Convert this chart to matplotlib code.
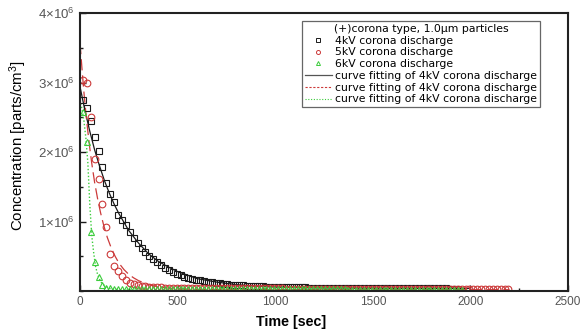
import matplotlib.pyplot as plt
import numpy as np
from matplotlib.lines import Line2D
from matplotlib.ticker import MultipleLocator

# measured concentration, units of 1e6 parts/cm3, sampled every 20 s from t=15 s
conc_4kv = [2.75, 2.63, 2.45, 2.22, 2.02, 1.78, 1.55, 1.40, 1.28, 1.10,
            1.02, 0.95, 0.85, 0.77, 0.69, 0.62, 0.56, 0.50, 0.46, 0.42,
            0.37, 0.33, 0.30, 0.27, 0.25, 0.23, 0.21, 0.19, 0.18, 0.165,
            0.155, 0.145, 0.135, 0.125, 0.118, 0.11, 0.104, 0.098, 0.093, 0.089,
            0.085, 0.081, 0.078, 0.075, 0.072, 0.070, 0.067, 0.065, 0.063, 0.061,
            0.059, 0.058, 0.057, 0.056, 0.055, 0.054, 0.053, 0.053, 0.052, 0.051,
            0.050, 0.050, 0.049, 0.048, 0.048, 0.047, 0.047, 0.046, 0.046, 0.045,
            0.045, 0.044, 0.044, 0.044, 0.043, 0.043, 0.042, 0.042, 0.042, 0.041,
            0.041, 0.041, 0.040, 0.040, 0.040, 0.040, 0.039, 0.039, 0.039, 0.039,
            0.038, 0.038, 0.038, 0.038, 0.037, 0.037, 0.037]
conc_5kv = [3.04, 2.99, 2.50, 1.90, 1.62, 1.26, 0.92, 0.53, 0.36, 0.29,
            0.22, 0.16, 0.12, 0.10, 0.085, 0.075, 0.068, 0.062, 0.058, 0.055,
            0.053, 0.052, 0.051, 0.050, 0.049, 0.048, 0.048, 0.047, 0.046, 0.046,
            0.045, 0.045, 0.044, 0.044, 0.043, 0.043, 0.042, 0.042, 0.042, 0.041,
            0.041, 0.041, 0.040, 0.040, 0.040, 0.039, 0.039, 0.039, 0.038, 0.038,
            0.038, 0.038, 0.037, 0.037, 0.037, 0.037, 0.036, 0.036, 0.036, 0.036,
            0.035, 0.035, 0.035, 0.035, 0.034, 0.034, 0.034, 0.034, 0.034, 0.033,
            0.033, 0.033, 0.033, 0.033, 0.032, 0.032, 0.032, 0.032, 0.032, 0.032,
            0.031, 0.031, 0.031, 0.031, 0.031, 0.031, 0.030, 0.030, 0.030, 0.030,
            0.030, 0.030, 0.030, 0.029, 0.029, 0.029, 0.029, 0.029, 0.029, 0.029,
            0.028, 0.028, 0.028, 0.028, 0.028, 0.028, 0.028, 0.028, 0.027, 0.027]
conc_6kv = [2.58, 2.14, 0.85, 0.42, 0.20, 0.09, 0.05, 0.038, 0.033, 0.031,
            0.030, 0.030, 0.030, 0.030, 0.029, 0.029, 0.029, 0.029, 0.029, 0.029,
            0.028, 0.028, 0.028, 0.028, 0.028, 0.028, 0.028, 0.028, 0.027, 0.027,
            0.027, 0.027, 0.027, 0.027, 0.027, 0.027, 0.026, 0.026, 0.026, 0.026,
            0.026, 0.026, 0.026, 0.026, 0.026, 0.025, 0.025, 0.025, 0.025, 0.025,
            0.025, 0.025, 0.025, 0.025, 0.025, 0.025, 0.024, 0.024, 0.024, 0.024,
            0.024, 0.024, 0.024, 0.024, 0.024, 0.024, 0.024, 0.024, 0.023, 0.023,
            0.023, 0.023, 0.023, 0.023, 0.023, 0.023, 0.023, 0.023, 0.023, 0.023,
            0.022, 0.022, 0.022, 0.022, 0.022, 0.022, 0.022, 0.022, 0.022, 0.022,
            0.022, 0.022, 0.022, 0.021, 0.021, 0.021, 0.021, 0.021]
t_start, t_step = 15, 20

# fitted curves
fit_t4 = [0, 25, 50, 75, 100, 125, 150, 175, 200, 250, 300, 350, 400, 450, 500,
          600, 700, 800, 900, 1000, 1200, 1400, 1600, 1800, 2000]
fit_c4 = [2.94, 2.60, 2.30, 2.03, 1.80, 1.59, 1.41, 1.25, 1.11, 0.87, 0.69, 0.54,
          0.43, 0.35, 0.28, 0.18, 0.13, 0.093, 0.072, 0.059, 0.047, 0.043, 0.041,
          0.040, 0.040]
fit_t5 = [0, 10, 20, 30, 40, 50, 60, 75, 90, 105, 120, 140, 160, 180, 200, 225,
          250, 275, 300, 350, 400, 450, 500, 600, 800, 1000, 1500, 2000, 2200]
fit_c5 = [3.57, 3.20, 2.86, 2.56, 2.30, 2.06, 1.84, 1.56, 1.33, 1.13, 0.96, 0.77,
          0.62, 0.50, 0.40, 0.31, 0.24, 0.19, 0.15, 0.093, 0.062, 0.044, 0.034,
          0.025, 0.021, 0.020, 0.020, 0.020, 0.020]
fit_t6 = [0, 10, 20, 30, 40, 50, 60, 70, 80, 90, 100, 110, 125, 150, 200, 300, 2000]
fit_c6 = [2.75, 2.62, 2.45, 2.20, 1.85, 1.25, 0.80, 0.55, 0.35, 0.24, 0.17, 0.12,
          0.08, 0.04, 0.02, 0.01, 0.01]

legend_title = '(+)corona type, 1.0μm particles'
labels = ['4kV corona discharge', '5kV corona discharge', '6kV corona discharge',
          'curve fitting of 4kV corona discharge',
          'curve fitting of 4kV corona discharge',
          'curve fitting of 4kV corona discharge']

BLACK = '#1a1a1a'
RED = '#cc3a3a'
GREEN = '#3ccc3c'


def sample_times(values):
    return t_start + t_step * np.arange(len(values))


plt.rcParams['font.family'] = 'Liberation Sans'
plt.rcParams['mathtext.default'] = 'regular'

fig = plt.figure(figsize=(5.82, 3.35), dpi=100)
ax = fig.add_axes([0.1375, 0.131, 0.8385, 0.830])

ax.plot(fit_t4, fit_c4, color=BLACK, lw=0.9)
ax.plot(fit_t5, fit_c5, color=RED, lw=0.9, ls=(0, (9, 4)))
ax.plot(fit_t6, fit_c6, color=GREEN, lw=1.0, ls=(0, (1, 1.5)))

ax.plot(sample_times(conc_4kv), conc_4kv, ls='none', marker='s', ms=4.3,
        mfc='none', mec=BLACK, mew=0.8)
ax.plot(sample_times(conc_5kv), conc_5kv, ls='none', marker='o', ms=4.8,
        mfc='none', mec=RED, mew=0.8)
ax.plot(sample_times(conc_6kv), conc_6kv, ls='none', marker='^', ms=4.8,
        mfc='none', mec=GREEN, mew=0.8)

ax.set_xlim(0, 2500)
ax.set_ylim(0, 4)
ax.xaxis.set_major_locator(MultipleLocator(500))
ax.xaxis.set_minor_locator(MultipleLocator(250))
ax.set_yticks([1, 2, 3, 4])
ax.set_yticklabels([r'1$\times$10$^6$', r'2$\times$10$^6$',
                    r'3$\times$10$^6$', r'4$\times$10$^6$'])
ax.yaxis.set_minor_locator(MultipleLocator(0.5))
ax.tick_params(which='both', direction='in', top=False, right=False,
               colors=BLACK, labelcolor='#555555', labelsize=8.5, width=1)
ax.tick_params(axis='y', labelsize=9.5)
ax.tick_params(which='major', length=4)
ax.tick_params(which='minor', length=2.5)
for sp in ax.spines.values():
    sp.set_linewidth(1.5)
    sp.set_color('#222222')

ax.set_xlabel('Time [sec]', fontsize=10.3, fontweight='bold')
ax.set_ylabel('Concentration [parts/cm$^3$]', fontsize=10.8)
ax.xaxis.set_label_coords(0.432, -0.085)
ax.yaxis.set_label_coords(-0.105, 0.525)

handles = [
    Line2D([], [], ls='none', marker='s', ms=2.6, mfc='none', mec=BLACK, mew=0.7),
    Line2D([], [], ls='none', marker='o', ms=2.9, mfc='none', mec=RED, mew=0.7),
    Line2D([], [], ls='none', marker='^', ms=2.9, mfc='none', mec=GREEN, mew=0.7),
    Line2D([], [], color='#555555', lw=0.9),
    Line2D([], [], color=RED, lw=0.8, ls=(0, (2, 1.5))),
    Line2D([], [], color=GREEN, lw=0.8, ls=(0, (1, 1.5))),
]
leg = ax.legend(handles, labels, title=legend_title, loc='upper left',
                bbox_to_anchor=(0.455, 0.971), borderaxespad=0,
                prop={'family': 'DejaVu Sans', 'size': 7.85},
                title_fontproperties={'family': 'DejaVu Sans', 'size': 7.85},
                frameon=True, fancybox=False, framealpha=1, edgecolor='#666666',
                borderpad=0.25, labelspacing=0.16, handlelength=2.5,
                handletextpad=0.3)
leg.get_frame().set_linewidth(0.9)

fig.savefig('out.png', dpi=100)
